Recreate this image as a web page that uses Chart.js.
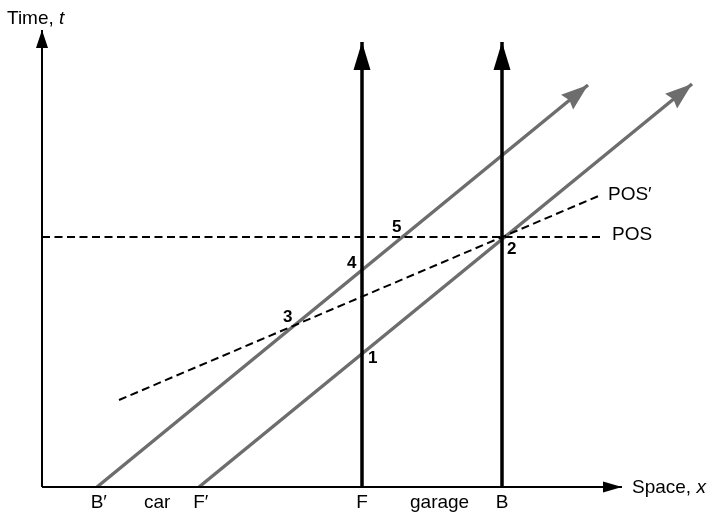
<!DOCTYPE html>
<html>
<head>
<meta charset="utf-8">
<script src="https://cdn.jsdelivr.net/npm/chart.js@4"></script>
<style>
  html, body { margin: 0; padding: 0; background: #fff; }
  #wrap { width: 713px; height: 514px; }
</style>
</head>
<body>
<div id="wrap"><canvas id="diagram" width="713" height="514"></canvas></div>
<script>
// space x and time t in the same arbitrary units, origin where the axes meet
const spaceAxisEnd = 58.0;
const timeAxisEnd = 45.7;

// garage: front F and back B stay put
const garageNames = ["F", "B"];
const garageX = [32.0, 46.0];
const garageTop = 44.5;

// car: back B′ and front F′ at t = 0, and where their arrows end
const carNames = ["B′", "F′"];
const carStartX = [5.5, 15.7];
const carTipX = [54.6, 65.0];
const carTipT = [40.2, 40.3];

// lines of simultaneity
const posT = 25.0;
const posEndX = 56.0;
const posPrimeX = [7.7, 56.0];
const posPrimeT = [8.7, 29.25];

const regionNames = ["car", "garage"];
const eventNames = ["1", "2", "3", "4", "5"];

const FONT = '"Liberation Sans", Arial, Helvetica, sans-serif';
const GREY = "#6d6d6d";

// where each piece of text sits, in chart units (left edge, baseline)
const tickBaseT = -2.1;
const regionX = [10.2, 36.8];
const eventSpots = [[32.6, 12.4], [46.5, 23.3], [24.1, 16.5], [30.5, 21.9], [35.0, 25.5]];

function seg(x0, t0, x1, t1) {
  return [{ x: x0, y: t0 }, { x: x1, y: t1 }];
}

const datasets = [
  { data: seg(0, 0, spaceAxisEnd, 0), borderColor: "#000", borderWidth: 2, arrow: { len: 19, half: 5.5, notch: 0, color: "#000" } },
  { data: seg(0, 0, 0, timeAxisEnd), borderColor: "#000", borderWidth: 2, arrow: { len: 18, half: 6, notch: 0, color: "#000" } },
  { data: seg(0, posT, posEndX, posT), borderColor: "#000", borderWidth: 2, borderDash: [8, 4.5] },
  { data: seg(posPrimeX[0], posPrimeT[0], posPrimeX[1], posPrimeT[1]), borderColor: "#000", borderWidth: 2, borderDash: [8, 4.5] }
];

garageX.forEach(function (x) {
  datasets.push({ data: seg(x, 0, x, garageTop), borderColor: "#000", borderWidth: 3.5, arrow: { len: 28, half: 8.5, notch: 0, color: "#000" } });
});

carStartX.forEach(function (x, i) {
  datasets.push({ data: seg(x, 0, carTipX[i], carTipT[i]), borderColor: GREY, borderWidth: 3.5, arrow: { len: 27, half: 9.5, notch: 3, color: GREY } });
});

datasets.forEach(function (d) {
  d.showLine = true;
  d.pointRadius = 0;
  d.fill = false;
  d.tension = 0;
  d.borderCapStyle = "butt";
});

const arrowHeads = {
  id: "arrowHeads",
  afterDatasetsDraw(chart) {
    const ctx = chart.ctx;
    chart.data.datasets.forEach(function (d, i) {
      if (!d.arrow) return;
      const pts = chart.getDatasetMeta(i).data;
      const a = pts[pts.length - 2], b = pts[pts.length - 1];
      const ang = Math.atan2(b.y - a.y, b.x - a.x);
      const len = d.arrow.len, half = d.arrow.half;
      ctx.save();
      ctx.translate(b.x, b.y);
      ctx.rotate(ang);
      ctx.fillStyle = d.arrow.color;
      ctx.beginPath();
      ctx.moveTo(0, 0);
      ctx.lineTo(-len, -half);
      ctx.lineTo(-len + d.arrow.notch, 0);
      ctx.lineTo(-len, half);
      ctx.closePath();
      ctx.fill();
      ctx.restore();
    });
  }
};

const diagramText = {
  id: "diagramText",
  afterDatasetsDraw(chart) {
    const ctx = chart.ctx;
    const sx = chart.scales.x, st = chart.scales.y;
    const px = function (x) { return sx.getPixelForValue(x); };
    const pt = function (t) { return st.getPixelForValue(t); };
    ctx.save();
    ctx.fillStyle = "#000";
    ctx.textBaseline = "alphabetic";
    ctx.textAlign = "left";

    function plainThenItalic(plain, ital, x, y) {
      ctx.font = "19px " + FONT;
      ctx.fillText(plain, x, y);
      const w = ctx.measureText(plain).width;
      ctx.font = "italic 19px " + FONT;
      ctx.fillText(ital, x + w, y);
    }
    plainThenItalic("Time, ", "t", px(-3.5), pt(46.3));
    plainThenItalic("Space, ", "x", px(59.0), pt(-0.6));

    // names under the space axis, base letter centred on its position
    ctx.font = "19px " + FONT;
    function tickName(name, x) {
      const w = ctx.measureText(name.charAt(0)).width;
      ctx.fillText(name, px(x) - w / 2, pt(tickBaseT));
    }
    garageNames.forEach(function (n, i) { tickName(n, garageX[i]); });
    carNames.forEach(function (n, i) { tickName(n, carStartX[i]); });
    regionNames.forEach(function (n, i) { ctx.fillText(n, px(regionX[i]), pt(tickBaseT)); });

    ctx.fillText("POS′", px(56.6), pt(28.7));
    ctx.fillText("POS", px(57.0), pt(24.7));

    ctx.font = "bold 17px " + FONT;
    eventNames.forEach(function (n, i) {
      ctx.fillText(n, px(eventSpots[i][0]), pt(eventSpots[i][1]));
    });
    ctx.restore();
  }
};

new Chart(document.getElementById("diagram"), {
  type: "scatter",
  data: { datasets: datasets },
  options: {
    responsive: false,
    animation: false,
    layout: { padding: 0 },
    plugins: { legend: { display: false }, tooltip: { enabled: false } },
    scales: {
      x: { type: "linear", min: -4.2, max: 67.1, display: false },
      y: { type: "linear", min: -2.7, max: 48.7, display: false }
    }
  },
  plugins: [arrowHeads, diagramText]
});
</script>
</body>
</html>
